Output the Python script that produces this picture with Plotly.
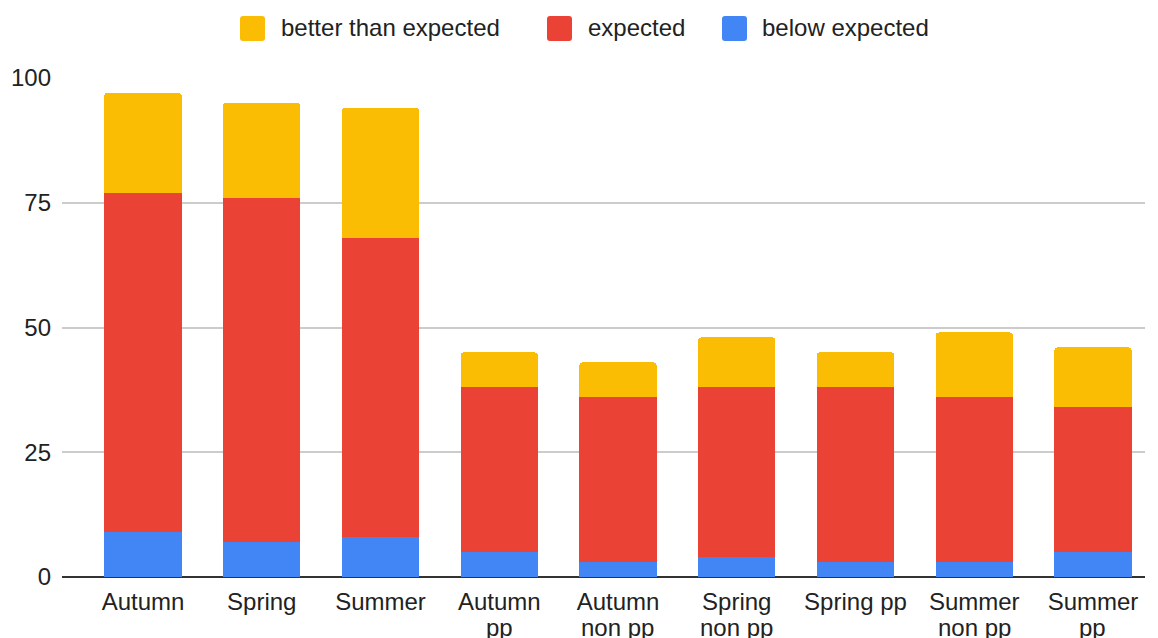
import plotly.graph_objects as go

categories = ["Autumn", "Spring", "Summer", "Autumn pp", "Autumn non pp",
              "Spring non pp", "Spring pp", "Summer non pp", "Summer pp"]
tick_labels = ["Autumn", "Spring", "Summer", "Autumn<br>pp", "Autumn<br>non pp",
               "Spring<br>non pp", "Spring pp", "Summer<br>non pp", "Summer<br>pp"]
below_expected = [9, 7, 8, 5, 3, 4, 3, 3, 5]
expected = [68, 69, 60, 33, 33, 34, 35, 33, 29]
better_than_expected = [20, 19, 26, 7, 7, 10, 7, 13, 12]
y_ticks = [0, 25, 50, 75, 100]

series = [
    ("below expected", below_expected, "#4285F4"),
    ("expected", expected, "#EA4335"),
    ("better than expected", better_than_expected, "#FBBC04"),
]

FONT = "Arial, 'Liberation Sans', sans-serif"
W, H = 1158, 638
ML, MR, MT, MB = 62, 13, 78, 61
PW, PH = W - ML - MR, H - MT - MB
TICKFONT = dict(family=FONT, size=24, color="#222222")

fig = go.Figure()
for name, vals, color in series:
    fig.add_trace(go.Bar(
        x=categories, y=vals, name=name, marker=dict(color=color, line=dict(width=0)),
        width=0.65, showlegend=False,
    ))

# custom legend (order: better, expected, below)
legend_items = [(series[2], 240, 279), (series[1], 547, 586), (series[0], 722, 760)]
shapes = []
annotations = []
r = 3
s = 25
path = (f"M {r},0 L {s-r},0 Q {s},0 {s},{r} L {s},{s-r} Q {s},{s} {s-r},{s} "
        f"L {r},{s} Q 0,{s} 0,{s-r} L 0,{r} Q 0,0 {r},0 Z")
for (name, _, color), sx, tx in legend_items:
    shapes.append(dict(
        type="path", xref="paper", yref="paper",
        xsizemode="pixel", ysizemode="pixel",
        xanchor=(sx - ML) / PW, yanchor=(MT + PH - 41) / PH,
        path=path, fillcolor=color, line=dict(width=0), layer="above",
    ))
    annotations.append(dict(
        x=(tx - ML) / PW, y=(MT + PH - 27) / PH, xref="paper", yref="paper",
        xanchor="left", yanchor="middle", text=name, showarrow=False,
        font=dict(family=FONT, size=24, color="#222222"),
    ))

# category labels: first line as tick label, second line placed with tighter spacing
first_lines = [t.split("<br>")[0] for t in tick_labels]
for cat, t in zip(categories, tick_labels):
    parts = t.split("<br>")
    if len(parts) > 1:
        annotations.append(dict(
            x=cat, xref="x", y=(MT + PH - 612) / PH, yref="paper",
            xanchor="center", yanchor="top", text=parts[1], showarrow=False,
            font=TICKFONT,
        ))

fig.update_layout(
    width=W, height=H,
    margin=dict(l=ML, r=MR, t=MT, b=MB, pad=0, autoexpand=False),
    barmode="stack",
    barcornerradius=3,
    plot_bgcolor="white", paper_bgcolor="white",
    font=dict(family=FONT, size=24, color="#222222"),
    shapes=shapes, annotations=annotations,
    xaxis=dict(
        range=[-0.682, 8.438], automargin=False,
        tickmode="array", tickvals=categories, ticktext=first_lines,
        showgrid=False, zeroline=False, showline=False,
        ticks="", ticklabelstandoff=8,
        tickfont=TICKFONT,
    ),
    yaxis=dict(
        range=[0, 100], automargin=False,
        tickmode="array", tickvals=y_ticks,
        showgrid=True, gridcolor="#cccccc", gridwidth=1.5,
        zeroline=True, zerolinecolor="#333333", zerolinewidth=2,
        showline=False, ticks="", ticklabelstandoff=10,
        tickfont=TICKFONT,
    ),
)

fig.write_html("out.html")
